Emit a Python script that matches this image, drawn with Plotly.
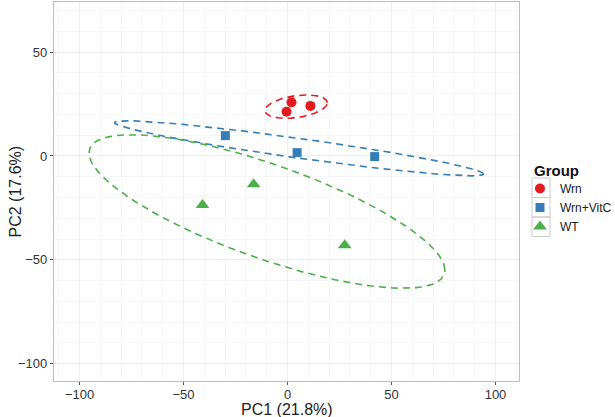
import numpy as np
import plotly.graph_objects as go

# ---- data ----
groups = ["Wrn", "Wrn+VitC", "WT"]
pc1_wrn = [1.9, -0.5, 11.0]
pc2_wrn = [25.8, 21.3, 24.1]
pc1_vitc = [-29.9, 4.6, 41.9]
pc2_vitc = [9.8, 1.6, -0.3]
pc1_wt = [-40.9, -16.3, 27.5]
pc2_wt = [-23.6, -13.6, -43.0]
x_ticks = [-100, -50, 0, 50, 100]
y_ticks = [-100, -50, 0, 50]

colors = ["#E41A1C", "#377EB8", "#4DAF4A"]
symbols = ["circle", "square", "triangle-up"]
sizes = [10, 9, 12]
ELLIPSE_R = 2.47  # ellipse scale factor (stat_ellipse-like)

data = [(pc1_wrn, pc2_wrn), (pc1_vitc, pc2_vitc), (pc1_wt, pc2_wt)]


def ellipse(xs, ys, r, n=121):
    P = np.column_stack([xs, ys])
    mu = P.mean(axis=0)
    S = np.cov(P, rowvar=False)
    L = np.linalg.cholesky(S)
    t = np.linspace(0, 2 * np.pi, n)
    circ = np.vstack([np.cos(t), np.sin(t)])
    E = mu[:, None] + r * (L @ circ)
    return E[0], E[1]


fig = go.Figure()

# ellipses
for (xs, ys), c in zip(data, colors):
    ex, ey = ellipse(xs, ys, ELLIPSE_R)
    fig.add_trace(go.Scatter(x=ex, y=ey, mode="lines", showlegend=False,
                             hoverinfo="skip",
                             line=dict(color=c, width=1.6, dash="7px,5px")))

# points
for g, (xs, ys), c, s, sz in zip(groups, data, colors, symbols, sizes):
    fig.add_trace(go.Scatter(x=xs, y=ys, mode="markers", name=g,
                             marker=dict(color=c, symbol=s, size=sz,
                                         line=dict(width=0))))

font_family = "Liberation Sans, Arial, Helvetica, sans-serif"

axis_common = dict(
    showgrid=True, gridcolor="#EEEEEE", gridwidth=1,
    minor=dict(showgrid=True, gridcolor="#F7F7F7", gridwidth=1),
    zeroline=False, showline=True, linecolor="#BDBDBD", linewidth=1.2,
    mirror=True, ticks="outside", ticklen=3, tickcolor="#555555",
    tickwidth=1, tickfont=dict(size=13, color="#333333", family=font_family),
    automargin=False,
)

PL, PR, PT, PB = 54, 96, 2, 36
W, H = 615, 417
pw = W - PL - PR
ph = H - PT - PB


def px_x(px):
    return (px - PL) / pw


def px_y(py):
    return (H - PB - py) / ph


LEG_TOP = 174
ITEM_H = 19.5
shapes = []
for i in range(len(groups)):
    y0 = LEG_TOP + 4 + i * ITEM_H
    shapes.append(dict(type="rect", xref="paper", yref="paper",
                       x0=px_x(532), x1=px_x(550),
                       y0=px_y(y0), y1=px_y(y0 + ITEM_H),
                       line=dict(color="#CCCCCC", width=1), fillcolor="rgba(0,0,0,0)"))

fig.update_layout(
    width=W, height=H,
    margin=dict(l=PL, r=PR, t=PT, b=PB, autoexpand=False),
    paper_bgcolor="white", plot_bgcolor="white",
    font=dict(family=font_family, color="#222222"),
    xaxis=dict(range=[-112.3, 111.3], tickvals=x_ticks,
               ticktext=["\u2212100", "\u221250", "0", "50", "100"],
               ticklabelstandoff=-2,
               **axis_common),
    yaxis=dict(range=[-108.3, 74.1], tickvals=y_ticks,
               ticktext=["\u2212100", "\u221250", "0", "50"],
               **axis_common),
    legend=dict(
        x=px_x(520), xanchor="left", y=px_y(LEG_TOP),
        yanchor="top",
        font=dict(size=12, color="#222222"),
        bgcolor="rgba(0,0,0,0)", tracegroupgap=0, itemwidth=30,
    ),
    shapes=shapes,
    annotations=[
        dict(text="PC1 (21.8%)", x=0.5, xref="paper", y=px_y(409.5),
             yref="paper", showarrow=False, xanchor="center", yanchor="middle",
             font=dict(size=16, color="#222222")),
        dict(text="PC2 (17.6%)", x=px_x(15), xref="paper", y=0.5,
             yref="paper", showarrow=False, xanchor="center", yanchor="middle",
             textangle=-90, font=dict(size=16, color="#222222")),
        dict(text="<b>Group</b>", x=px_x(532), xref="paper",
             y=px_y(170), yref="paper", showarrow=False,
             xanchor="left", yanchor="middle",
             font=dict(size=15, color="#111111")),
    ],
)

fig.write_html("out.html", config={"displayModeBar": False},
               post_script="document.body.style.margin='0';document.body.style.padding='0';")
